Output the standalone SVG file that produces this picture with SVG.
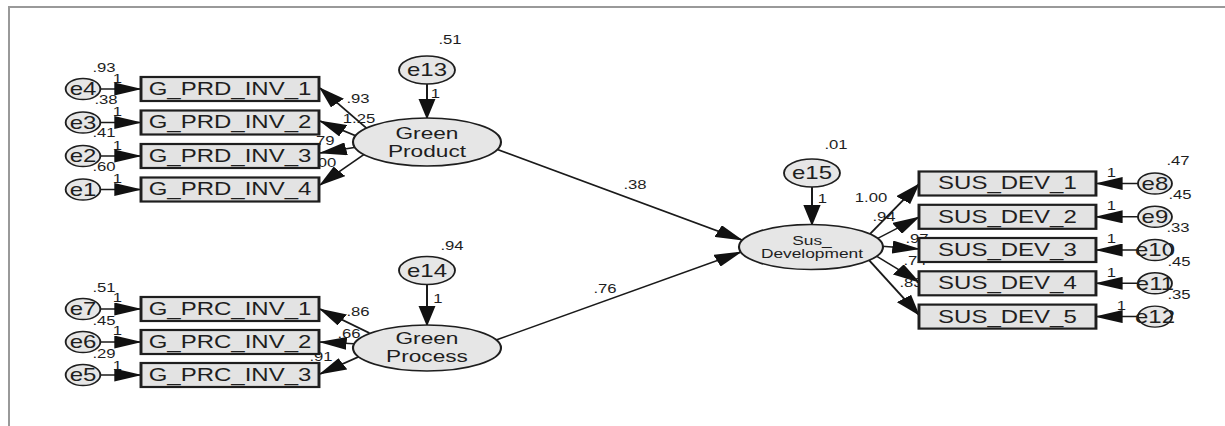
<svg xmlns="http://www.w3.org/2000/svg" width="1225" height="426" viewBox="0 0 1225 426">
<style>
.frame{fill:none;stroke:#999;stroke-width:2}
.box{fill:#e3e3e3;stroke:#1e1e1e;stroke-width:2.2}
.lat{fill:#e6e6e6;stroke:#1e1e1e;stroke-width:1.6}
.err{fill:#e6e6e6;stroke:#1e1e1e;stroke-width:1.4}
.con{fill:none;stroke:#1a1a1a;stroke-width:1.5;marker-end:url(#ah)}
text{font-family:"Liberation Sans",Arial,sans-serif;fill:#1e1e1e;text-anchor:middle}
.t{font-size:18px}
.tl{font-size:17px}
.ts{font-size:13px}
.lb{font-size:12.5px}
</style>
<defs>
<marker id="ah" viewBox="0 0 21 13" markerWidth="21" markerHeight="13" refX="20" refY="6.5" orient="auto" markerUnits="userSpaceOnUse">
<path d="M0,0 L21,6.5 L0,13 z" fill="#111"/>
</marker>
</defs>
<rect width="1225" height="426" fill="#fff"/>
<path class="frame" d="M9,426 V7 H1225"/>
<g transform="scale(1.3333,1)">
<g id="connectors">
<line class="con" x1="62.25" y1="89" x2="105.75" y2="89"/>
<line class="con" x1="62.25" y1="122.5" x2="105.75" y2="122.5"/>
<line class="con" x1="62.25" y1="156" x2="105.75" y2="156"/>
<line class="con" x1="62.25" y1="189.5" x2="105.75" y2="189.5"/>
<line class="con" x1="62.25" y1="309" x2="105.75" y2="309"/>
<line class="con" x1="62.25" y1="342" x2="105.75" y2="342"/>
<line class="con" x1="62.25" y1="375" x2="105.75" y2="375"/>
<line class="con" x1="320.25" y1="75" x2="320.25" y2="118.5"/>
<line class="con" x1="320.25" y1="275" x2="320.25" y2="325.5"/>
<line class="con" x1="609" y1="178" x2="609" y2="225"/>
<line class="con" x1="276.5" y1="130" x2="240" y2="88"/>
<line class="con" x1="269" y1="137" x2="240" y2="121"/>
<line class="con" x1="268" y1="147" x2="240" y2="153"/>
<line class="con" x1="273.5" y1="154" x2="240" y2="185"/>
<line class="con" x1="277" y1="333" x2="240" y2="309"/>
<line class="con" x1="269" y1="344" x2="240" y2="342"/>
<line class="con" x1="272" y1="355" x2="240" y2="374"/>
<line class="con" x1="370" y1="148" x2="556.5" y2="240"/>
<line class="con" x1="370" y1="341" x2="555.75" y2="252"/>
<line class="con" x1="651" y1="236" x2="689.25" y2="184"/>
<line class="con" x1="656" y1="240" x2="689.25" y2="217"/>
<line class="con" x1="659" y1="246" x2="689.25" y2="249"/>
<line class="con" x1="656" y1="255" x2="689.25" y2="282"/>
<line class="con" x1="651" y1="259" x2="689.25" y2="315"/>
<line class="con" x1="866.25" y1="183.5" x2="822" y2="183.5"/>
<line class="con" x1="866.25" y1="216.8" x2="822" y2="216.8"/>
<line class="con" x1="866.25" y1="250" x2="822" y2="250"/>
<line class="con" x1="866.25" y1="283.3" x2="822" y2="283.3"/>
<line class="con" x1="866.25" y1="316.6" x2="822" y2="316.6"/>
</g>
<g id="connector-labels">
<text class="lb" x="88" y="83">1</text>
<text class="lb" x="88" y="116">1</text>
<text class="lb" x="88" y="150">1</text>
<text class="lb" x="88" y="183">1</text>
<text class="lb" x="88" y="302">1</text>
<text class="lb" x="88" y="335">1</text>
<text class="lb" x="88" y="370">1</text>
<text class="lb" x="326.6" y="98">1</text>
<text class="lb" x="328.5" y="303">1</text>
<text class="lb" x="616.9" y="203">1</text>
<text class="lb" x="833.6" y="177">1</text>
<text class="lb" x="833.6" y="210">1</text>
<text class="lb" x="833.6" y="243">1</text>
<text class="lb" x="833.6" y="277">1</text>
<text class="lb" x="841.1" y="310">1</text>
<text class="lb" x="268.5" y="103">.93</text>
<text class="lb" x="269.25" y="123">1.25</text>
<text class="lb" x="242.25" y="145">.79</text>
<text class="lb" x="240" y="167">1.00</text>
<text class="lb" x="268.5" y="316">.86</text>
<text class="lb" x="261.75" y="338">.66</text>
<text class="lb" x="240.75" y="361">.91</text>
<text class="lb" x="476.25" y="189">.38</text>
<text class="lb" x="453.75" y="293">.76</text>
<text class="lb" x="653.25" y="202">1.00</text>
<text class="lb" x="663" y="221">.94</text>
<text class="lb" x="687.75" y="243">.97</text>
<text class="lb" x="686.25" y="265">.74</text>
<text class="lb" x="683.25" y="287">.83</text>
</g>
<g id="e4"><ellipse class="err" cx="62.25" cy="89" rx="13" ry="10.5"/><text class="t" x="62.25" y="95.5">e4</text><text class="lb" x="78" y="72">.93</text></g>
<g id="e3"><ellipse class="err" cx="62.25" cy="122.5" rx="13" ry="10.5"/><text class="t" x="62.25" y="129">e3</text><text class="lb" x="79.5" y="104">.38</text></g>
<g id="e2"><ellipse class="err" cx="62.25" cy="156" rx="13" ry="10.5"/><text class="t" x="62.25" y="162.5">e2</text><text class="lb" x="78" y="137">.41</text></g>
<g id="e1"><ellipse class="err" cx="62.25" cy="189.5" rx="13" ry="10.5"/><text class="t" x="62.25" y="196">e1</text><text class="lb" x="78" y="171">.60</text></g>
<g id="G_PRD_INV_1"><rect class="box" x="105.75" y="77" width="133.5" height="24"/><text class="t" x="172.5" y="95">G_PRD_INV_1</text></g>
<g id="G_PRD_INV_2"><rect class="box" x="105.75" y="110.5" width="133.5" height="24"/><text class="t" x="172.5" y="128.5">G_PRD_INV_2</text></g>
<g id="G_PRD_INV_3"><rect class="box" x="105.75" y="144" width="133.5" height="24"/><text class="t" x="172.5" y="162">G_PRD_INV_3</text></g>
<g id="G_PRD_INV_4"><rect class="box" x="105.75" y="177.5" width="133.5" height="24"/><text class="t" x="172.5" y="195.5">G_PRD_INV_4</text></g>
<g id="e7"><ellipse class="err" cx="62.25" cy="309" rx="13" ry="10.5"/><text class="t" x="62.25" y="315.5">e7</text><text class="lb" x="78" y="292">.51</text></g>
<g id="e6"><ellipse class="err" cx="62.25" cy="342" rx="13" ry="10.5"/><text class="t" x="62.25" y="348.5">e6</text><text class="lb" x="78" y="325">.45</text></g>
<g id="e5"><ellipse class="err" cx="62.25" cy="375" rx="13" ry="10.5"/><text class="t" x="62.25" y="381.5">e5</text><text class="lb" x="78" y="358">.29</text></g>
<g id="G_PRC_INV_1"><rect class="box" x="105.75" y="297" width="133.5" height="24"/><text class="t" x="172.5" y="315">G_PRC_INV_1</text></g>
<g id="G_PRC_INV_2"><rect class="box" x="105.75" y="330" width="133.5" height="24"/><text class="t" x="172.5" y="348">G_PRC_INV_2</text></g>
<g id="G_PRC_INV_3"><rect class="box" x="105.75" y="363" width="133.5" height="24"/><text class="t" x="172.5" y="381">G_PRC_INV_3</text></g>
<g id="e13"><ellipse class="err" cx="320.25" cy="70" rx="21" ry="14"/><text class="t" x="320.25" y="76.5">e13</text><text class="lb" x="337.5" y="44">.51</text></g>
<g id="GreenProduct"><ellipse class="lat" cx="320.25" cy="142" rx="55.5" ry="24"/><text class="tl" x="320.25" y="139">Green</text><text class="tl" x="320.25" y="157">Product</text></g>
<g id="e14"><ellipse class="err" cx="320.25" cy="270.5" rx="21" ry="14"/><text class="t" x="320.25" y="277">e14</text><text class="lb" x="339" y="250">.94</text></g>
<g id="GreenProcess"><ellipse class="lat" cx="320.25" cy="348" rx="55.5" ry="23"/><text class="tl" x="320.25" y="344">Green</text><text class="tl" x="320.25" y="362">Process</text></g>
<g id="e15"><ellipse class="err" cx="609" cy="173" rx="21" ry="14"/><text class="t" x="609" y="179.5">e15</text><text class="lb" x="627" y="149">.01</text></g>
<g id="SusDevelopment"><ellipse class="lat" cx="608.25" cy="247" rx="54" ry="22.5"/><text class="ts" x="609" y="245">Sus_</text><text class="ts" x="609" y="258.5">Development</text></g>
<g id="SUS_DEV_1"><rect class="box" x="689.25" y="171.5" width="132.75" height="24"/><text class="t" x="755.6" y="189.5">SUS_DEV_1</text></g>
<g id="SUS_DEV_2"><rect class="box" x="689.25" y="204.8" width="132.75" height="24"/><text class="t" x="755.6" y="222.8">SUS_DEV_2</text></g>
<g id="SUS_DEV_3"><rect class="box" x="689.25" y="238" width="132.75" height="24"/><text class="t" x="755.6" y="256">SUS_DEV_3</text></g>
<g id="SUS_DEV_4"><rect class="box" x="689.25" y="271.3" width="132.75" height="24"/><text class="t" x="755.6" y="289.3">SUS_DEV_4</text></g>
<g id="SUS_DEV_5"><rect class="box" x="689.25" y="304.6" width="132.75" height="24"/><text class="t" x="755.6" y="322.6">SUS_DEV_5</text></g>
<g id="e8"><ellipse class="err" cx="866.25" cy="183.5" rx="12.75" ry="10.5"/><text class="t" x="866.25" y="190">e8</text><text class="lb" x="883.5" y="165">.47</text></g>
<g id="e9"><ellipse class="err" cx="866.25" cy="216.8" rx="12.75" ry="10.5"/><text class="t" x="866.25" y="223.3">e9</text><text class="lb" x="885" y="199">.45</text></g>
<g id="e10"><ellipse class="err" cx="866.25" cy="250" rx="12.75" ry="10.5"/><text class="t" x="866.25" y="256.5">e10</text><text class="lb" x="883.5" y="232">.33</text></g>
<g id="e11"><ellipse class="err" cx="866.25" cy="283.3" rx="12.75" ry="10.5"/><text class="t" x="866.25" y="289.8">e11</text><text class="lb" x="884.25" y="266">.45</text></g>
<g id="e12"><ellipse class="err" cx="866.25" cy="316.6" rx="12.75" ry="10.5"/><text class="t" x="866.25" y="323.1">e12</text><text class="lb" x="884.25" y="299">.35</text></g>
</g>
</svg>
